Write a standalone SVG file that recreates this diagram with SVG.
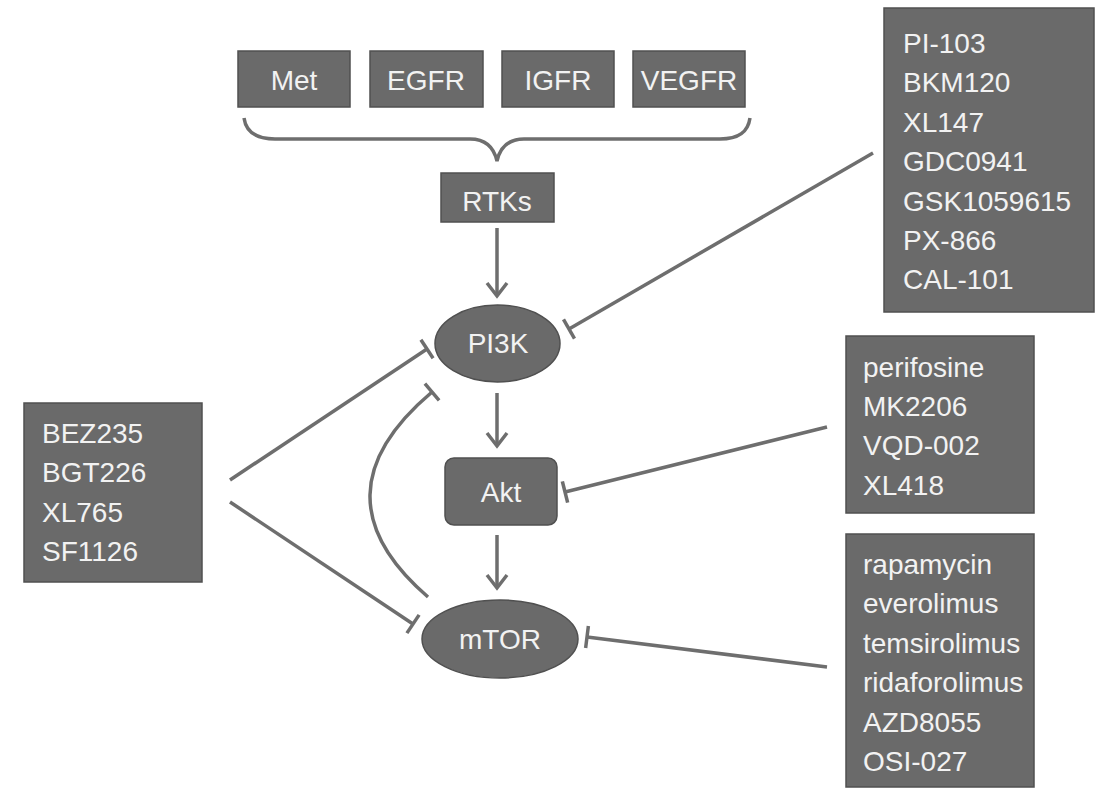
<svg xmlns="http://www.w3.org/2000/svg" width="1104" height="789" viewBox="0 0 1104 789">
<style>
.box{fill:#6a6a6a;stroke:#505050;stroke-width:1.5}
.t{font-family:"Liberation Sans",Arial,sans-serif;font-size:28px;fill:#f2f2f2}
.c{text-anchor:middle}
.ln{stroke:#6e6e6e;stroke-width:3.5;fill:none}
</style>
<defs>
<marker id="tbar" markerUnits="userSpaceOnUse" viewBox="-3 -13 6 26" markerWidth="6" markerHeight="26" refX="0" refY="0" orient="auto">
<path d="M0,-11 V11" stroke="#6e6e6e" stroke-width="3.5"/>
</marker>
<marker id="arr" markerUnits="userSpaceOnUse" viewBox="-16 -13 19 26" markerWidth="19" markerHeight="26" refX="0" refY="0" orient="auto">
<path d="M-13,-10 L0,0 L-13,10" stroke="#6e6e6e" stroke-width="3.5" fill="none"/>
</marker>
</defs>
<rect width="1104" height="789" fill="#ffffff"/>
<g id="connectors">
<path class="ln" d="M244,118 C246,132 256,139 275,139 L470,139 C486,139 494,148 497,161 C500,148 508,139 524,139 L720,139 C739,139 748,132 750,118"/>
<line class="ln" x1="497" y1="228" x2="497" y2="296" marker-end="url(#arr)"/>
<line class="ln" x1="497" y1="393" x2="497" y2="446" marker-end="url(#arr)"/>
<line class="ln" x1="497" y1="535" x2="497" y2="588" marker-end="url(#arr)"/>
<path class="ln" d="M428,597 Q310,495 432,392" marker-end="url(#tbar)"/>
<line class="ln" x1="230" y1="480" x2="427" y2="349" marker-end="url(#tbar)"/>
<line class="ln" x1="230" y1="502" x2="413" y2="624" marker-end="url(#tbar)"/>
<line class="ln" x1="873" y1="153" x2="569" y2="329" marker-end="url(#tbar)"/>
<line class="ln" x1="827" y1="427" x2="565" y2="492" marker-end="url(#tbar)"/>
<line class="ln" x1="827" y1="667" x2="587" y2="637" marker-end="url(#tbar)"/>
</g>
<g id="met"><rect class="box" x="238" y="51" width="112" height="56"/><text class="t c" x="294" y="90">Met</text></g>
<g id="egfr"><rect class="box" x="370" y="51" width="113" height="56"/><text class="t c" x="426" y="90">EGFR</text></g>
<g id="igfr"><rect class="box" x="502" y="51" width="112" height="56"/><text class="t c" x="558" y="90">IGFR</text></g>
<g id="vegfr"><rect class="box" x="633" y="51" width="112" height="56"/><text class="t c" x="689" y="90">VEGFR</text></g>
<g id="rtks"><rect class="box" x="441" y="173" width="113" height="49"/><text class="t c" x="497" y="211">RTKs</text></g>
<g id="pi3k"><ellipse class="box" cx="497.5" cy="343.5" rx="62.5" ry="38.5"/><text class="t c" x="498" y="353">PI3K</text></g>
<g id="akt"><rect class="box" x="445" y="458" width="112" height="67" rx="9"/><text class="t c" x="501" y="502">Akt</text></g>
<g id="mtor"><ellipse class="box" cx="500" cy="639" rx="78" ry="39"/><text class="t c" x="500" y="649">mTOR</text></g>
<g id="dual">
<rect class="box" x="24" y="403" width="178" height="179"/>
<text class="t" x="42" y="443">BEZ235</text>
<text class="t" x="42" y="482">BGT226</text>
<text class="t" x="42" y="522">XL765</text>
<text class="t" x="42" y="561">SF1126</text>
</g>
<g id="pi3k-inhibitors">
<rect class="box" x="884" y="8" width="210" height="304"/>
<text class="t" x="903" y="53">PI-103</text>
<text class="t" x="903" y="92">BKM120</text>
<text class="t" x="903" y="132">XL147</text>
<text class="t" x="903" y="171">GDC0941</text>
<text class="t" x="903" y="211">GSK1059615</text>
<text class="t" x="903" y="250">PX-866</text>
<text class="t" x="903" y="289">CAL-101</text>
</g>
<g id="akt-inhibitors">
<rect class="box" x="846" y="336" width="188" height="177"/>
<text class="t" x="863" y="377">perifosine</text>
<text class="t" x="863" y="416">MK2206</text>
<text class="t" x="863" y="455">VQD-002</text>
<text class="t" x="863" y="495">XL418</text>
</g>
<g id="mtor-inhibitors">
<rect class="box" x="846" y="534" width="188" height="253"/>
<text class="t" x="863" y="574">rapamycin</text>
<text class="t" x="863" y="613">everolimus</text>
<text class="t" x="863" y="653">temsirolimus</text>
<text class="t" x="863" y="692">ridaforolimus</text>
<text class="t" x="863" y="732">AZD8055</text>
<text class="t" x="863" y="771">OSI-027</text>
</g>
</svg>
